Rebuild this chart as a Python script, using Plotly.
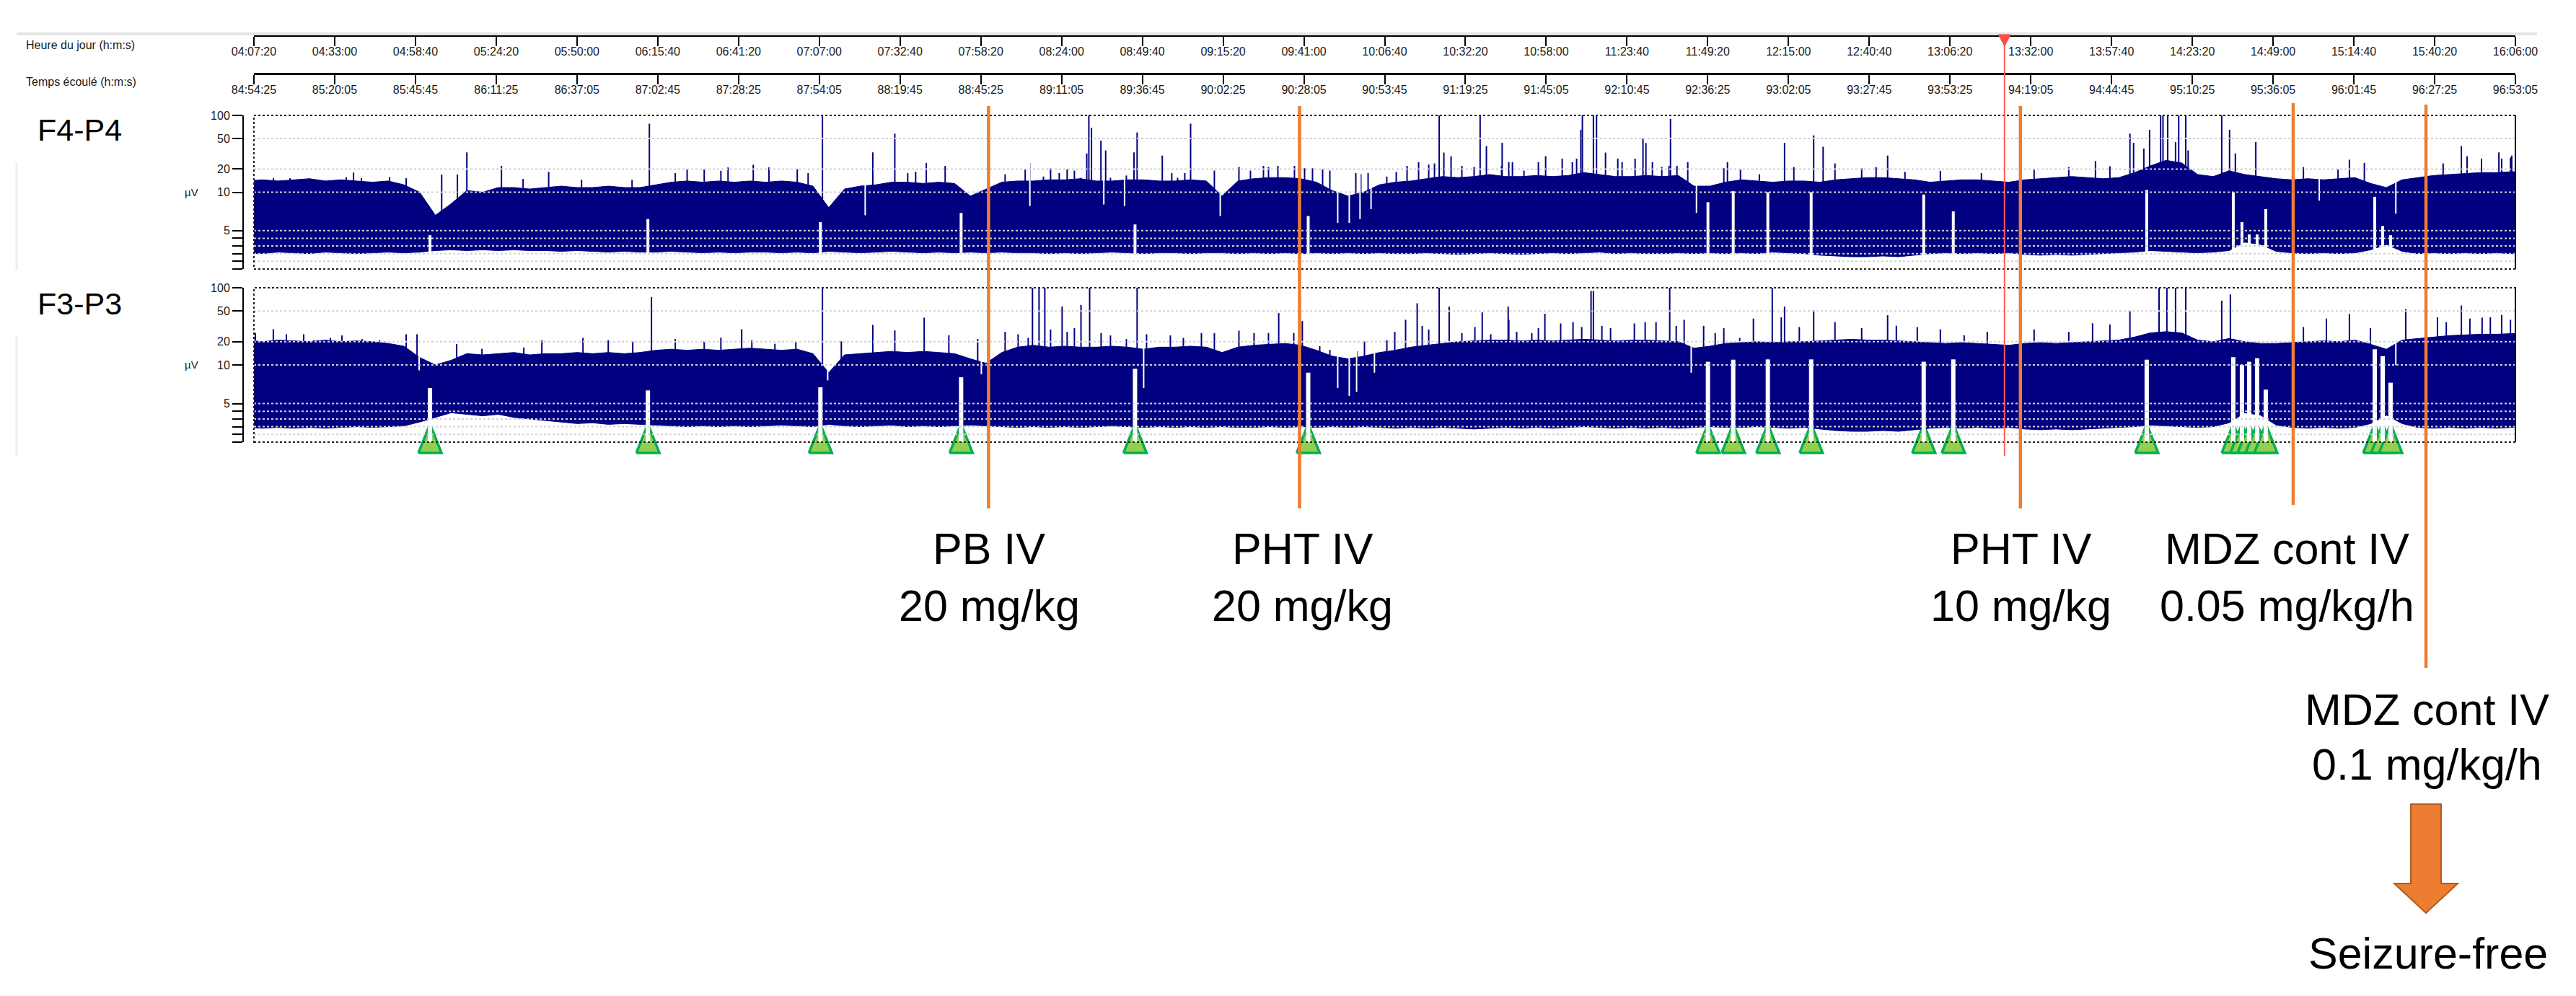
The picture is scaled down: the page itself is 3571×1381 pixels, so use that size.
import numpy as np
import plotly.graph_objects as go

W, H = 3571, 1381
NAVY = "#000080"
ORANGE = "#ED7D31"
FONT = "Liberation Sans, Arial, sans-serif"

# --- time axes -------------------------------------------------------------
clock_ticks = ["04:07:20", "04:33:00", "04:58:40", "05:24:20", "05:50:00", "06:15:40",
               "06:41:20", "07:07:00", "07:32:40", "07:58:20", "08:24:00", "08:49:40",
               "09:15:20", "09:41:00", "10:06:40", "10:32:20", "10:58:00", "11:23:40",
               "11:49:20", "12:15:00", "12:40:40", "13:06:20", "13:32:00", "13:57:40",
               "14:23:20", "14:49:00", "15:14:40", "15:40:20", "16:06:00"]
elapsed_ticks = ["84:54:25", "85:20:05", "85:45:45", "86:11:25", "86:37:05", "87:02:45",
                 "87:28:25", "87:54:05", "88:19:45", "88:45:25", "89:11:05", "89:36:45",
                 "90:02:25", "90:28:05", "90:53:45", "91:19:25", "91:45:05", "92:10:45",
                 "92:36:25", "93:02:05", "93:27:45", "93:53:25", "94:19:05", "94:44:45",
                 "95:10:25", "95:36:05", "96:01:45", "96:27:25", "96:53:05"]

# --- aEEG envelopes, one value every 5 min from 04:05 ------------------------
grid_start = "04:05:00"
f4p4_upper = [14, 14.5, 14, 14.5, 15, 14, 14.5, 14, 13.5, 14,
              12.5, 10, 7, 8.5, 10.5, 10, 11.5, 11.5, 11, 11.5,
              12, 11.5, 11.5, 12, 11.5, 11.5, 12.5, 13.5, 14, 13.5,
              14, 13.5, 14, 13.5, 14, 13.5, 12, 8, 11, 12,
              12.5, 13.5, 13.5, 13, 13.5, 13, 9.5, 11, 13.5, 14,
              14, 14.5, 14.5, 15, 14, 14, 14.5, 14.5, 14, 14,
              14.5, 14, 9.5, 14, 15, 15.5, 15.5, 15, 13.5, 10.5,
              9.5, 10, 12.5, 13.5, 14, 15, 16, 15.5, 16, 17,
              16, 16, 16.5, 16, 16.5, 18, 17, 16, 16, 16.5,
              16, 16.5, 12, 12, 13.5, 14.5, 14, 13.5, 14, 14,
              13.5, 14.5, 15, 15.5, 15.5, 15, 14.5, 13.5, 14, 14.5,
              14.5, 14, 13.5, 14.5, 15, 15.5, 16, 15.5, 15, 15.5,
              18, 22, 26, 24, 17, 16, 19, 17, 16, 15,
              14.5, 15, 14.5, 15, 15.5, 13, 11.5, 14.5, 15.5, 16.5,
              17, 17.5, 18, 18, 18.5, 18.5]
f4p4_lower = [2.1, 2.0, 2.2, 2.1, 2.0, 2.2, 2.1, 2.0, 2.1, 2.2,
              2.1, 2.2, 2.4, 2.5, 2.4, 2.5, 2.4, 2.5, 2.4, 2.4,
              2.3, 2.4, 2.3, 2.2, 2.3, 2.2, 2.2, 2.3, 2.2, 2.1,
              2.2, 2.1, 2.2, 2.2, 2.1, 2.2, 2.1, 2.3, 2.2, 2.1,
              2.2, 2.3, 2.2, 2.1, 2.2, 2.1, 2.2, 2.1, 2.2, 2.1,
              2.1, 2.0, 2.1, 2.0, 2.1, 2.2, 2.1, 2.0, 2.1, 2.1,
              2.0, 2.1, 2.1, 2.0, 2.1, 2.0, 2.1, 2.0, 2.1, 2.0,
              2.1, 2.0, 2.1, 2.0, 2.0, 2.1, 2.0, 1.9, 2.0, 2.1,
              2.0, 1.9, 2.0, 2.1, 2.0, 2.1, 2.2, 2.0, 2.1, 2.0,
              2.0, 2.1, 2.0, 2.1, 2.0, 2.1, 2.0, 2.2, 2.1, 2.0,
              1.8, 1.7, 1.6, 1.6, 1.7, 1.6, 1.8, 2.0, 2.1, 2.0,
              2.1, 2.0, 2.1, 1.9, 1.8, 1.9, 1.8, 1.9, 2.0, 2.1,
              2.2, 2.4, 2.3, 2.2, 2.1, 2.2, 2.4, 3.5, 3.2, 2.3,
              2.1, 2.0, 2.1, 2.0, 2.1, 2.5, 3.2, 2.3, 2.0, 2.1,
              2.0, 2.1, 2.0, 2.1, 2.0, 2.0]
f3p3_upper = [21, 20, 21, 20.5, 20, 21, 20, 20.5, 20, 19,
              17.5, 12.5, 10, 11.5, 14, 13.5, 14, 14.5, 13.5, 14,
              14, 14.5, 14, 14.5, 14, 14.5, 15.5, 16, 15.5, 16,
              15.5, 16, 16.5, 16, 15.5, 16, 14, 9, 13.5, 14,
              14.5, 15, 14.5, 15, 14.5, 14, 12, 10.5, 14.5, 17,
              18, 17, 17.5, 17, 17, 17.5, 17, 16, 17, 17,
              17.5, 17, 14.5, 17, 18, 18.5, 19, 18, 15.5, 13,
              12, 13, 14.5, 15.5, 17, 18, 19, 20, 20.5, 21,
              21, 20.5, 21, 20.5, 21, 21.5, 21, 20.5, 21, 21,
              20.5, 20, 16.5, 17.5, 19, 19.5, 20, 19.5, 20, 20,
              20.5, 21, 21.5, 21, 21, 20.5, 20, 19.5, 19, 19.5,
              19, 18.5, 18, 19, 19.5, 19, 19.5, 20, 20.5, 21,
              23, 26, 27, 26, 21, 20, 22, 20, 19, 19,
              19.5, 20, 20.5, 20, 21, 18.5, 16, 21, 22, 23,
              24, 24.5, 25, 25, 25.5, 25.5]
f3p3_lower = [1.9, 1.8, 1.9, 1.8, 1.9, 1.8, 1.9, 2.0, 1.9, 2.0,
              2.1, 2.6, 3.2, 3.8, 3.6, 3.4, 3.6, 3.2, 3.0, 2.8,
              2.6, 2.4, 2.5, 2.3, 2.4, 2.3, 2.2, 2.1, 2.0, 2.1,
              2.0, 2.1, 2.0, 2.1, 2.2, 2.1, 2.0, 2.3, 2.1, 2.0,
              2.1, 2.2, 2.0, 2.1, 2.0, 2.1, 2.2, 2.1, 2.0, 1.9,
              2.0, 1.9, 2.0, 1.9, 2.0, 2.1, 2.0, 1.9, 2.0, 1.9,
              2.0, 1.9, 2.0, 1.9, 1.9, 2.0, 1.9, 2.0, 1.9, 2.0,
              1.9, 2.0, 1.9, 1.8, 1.9, 1.8, 1.9, 1.8, 1.7, 1.8,
              1.9, 1.8, 1.9, 1.8, 1.9, 2.0, 1.9, 1.8, 1.9, 1.8,
              1.9, 1.8, 1.9, 2.0, 1.9, 1.9, 2.0, 1.9, 1.8, 1.9,
              1.7, 1.5, 1.4, 1.4, 1.5, 1.4, 1.6, 1.8, 1.9, 1.8,
              1.9, 1.8, 1.9, 1.7, 1.6, 1.7, 1.6, 1.7, 1.8, 1.9,
              2.0, 2.2, 2.1, 2.0, 1.9, 2.0, 2.5, 3.8, 3.5, 2.2,
              1.9, 1.8, 1.9, 1.8, 1.9, 2.4, 3.5, 2.4, 1.9, 1.8,
              1.9, 1.8, 1.9, 1.8, 1.9, 1.9]

# --- tall upper-margin spikes (uV) ------------------------------------------
f4p4_spike_t = ["04:19:30", "04:34:00", "05:07:00", "05:12:00", "05:15:00", "05:26:00",
                "05:41:00", "06:13:00", "06:25:00", "06:38:00", "06:51:00", "07:00:00",
                "07:08:00", "07:24:00", "07:31:00", "07:41:00", "07:47:00", "08:14:00",
                "08:32:00", "08:32:40", "08:33:30", "08:36:30", "08:38:00", "08:47:00",
                "08:48:00", "08:56:00", "09:05:00", "10:24:00", "10:37:00", "10:39:00",
                "10:44:00", "11:09:00", "11:09:30", "11:13:00", "11:14:00", "11:28:45",
                "11:37:30", "12:13:45", "12:23:00", "12:26:00", "12:46:30", "14:03:30",
                "14:04:40", "14:07:55", "14:09:45", "14:13:15", "14:14:00", "14:15:30",
                "14:18:00", "14:19:00", "14:21:15", "14:22:00", "14:32:40", "14:35:10",
                "14:37:00", "14:43:30", "15:13:15", "15:18:00", "15:48:50", "16:00:45",
                "16:04:50"]
f4p4_spike_uv = [14.5, 14, 17, 17, 33, 22, 18.4, 78, 20, 21, 21, 20,
                 100, 33, 58, 24, 22, 24, 32, 100, 69, 47, 35, 33,
                 60, 30, 78, 100, 100, 40, 44, 65, 100, 100, 100, 50,
                 90, 44, 55, 39, 30, 58, 44, 37, 65, 100, 100, 100,
                 45, 100, 100, 35, 100, 65, 32, 45, 26.5, 24, 40, 33,
                 30]
f3p3_spike_t = ["04:13:30", "06:13:40", "06:42:20", "07:08:00", "07:24:00", "07:31:00",
                "07:40:20", "08:14:45", "08:16:50", "08:18:40", "08:24:10", "08:30:10",
                "08:32:55", "08:48:00", "09:33:00", "09:40:30", "10:17:00", "10:24:00",
                "10:27:10", "10:37:40", "10:45:55", "10:57:35", "11:12:15", "11:13:00",
                "11:37:15", "12:09:50", "12:13:45", "12:23:00", "12:46:30", "14:03:30",
                "14:12:45", "14:15:15", "14:18:00", "14:21:15", "14:32:40", "14:35:25",
                "15:13:15", "15:31:10", "15:48:50", "15:55:25"]
f3p3_spike_uv = [29, 76, 29, 100, 33, 28, 41, 100, 100, 100, 57, 60,
                 100, 100, 47, 37, 63, 100, 57, 48, 57, 46, 91, 91,
                 100, 100, 57, 51, 44, 50, 100, 100, 100, 100, 68, 82,
                 46, 53, 59, 41]

# --- short bursts just above the band (uV) ----------------------------------
f4p4_hair_t = ["04:13:31", "04:18:48", "04:36:41", "04:38:59", "04:41:30", "04:50:27",
               "04:55:43", "05:32:52", "05:51:27", "06:07:30", "06:21:14", "06:30:26",
               "06:35:44", "06:46:01", "07:03:27", "07:35:06", "07:37:37", "08:06:03",
               "08:12:26", "08:18:14", "08:20:30", "08:23:15", "08:25:46", "08:28:04",
               "08:30:08", "08:39:32", "08:44:35", "08:59:01", "09:00:52", "09:03:09",
               "09:07:44", "09:12:33", "09:20:21", "09:24:01", "09:28:09", "09:29:45",
               "09:32:44", "09:38:00", "09:41:13", "09:43:44", "09:46:57", "09:49:15",
               "09:57:30", "09:59:06", "10:01:24", "10:07:20", "10:10:21", "10:13:47",
               "10:17:27", "10:20:40", "10:22:30", "10:25:29", "10:27:46", "10:31:12",
               "10:35:06", "10:43:49", "10:46:07", "10:47:16", "10:50:56", "10:55:31",
               "10:57:49", "11:03:05", "11:06:18", "11:07:40", "11:16:51", "11:20:45",
               "11:22:07", "11:26:15", "11:29:41", "11:31:45", "11:34:44", "11:37:02",
               "11:39:33", "11:42:59", "11:54:27", "11:55:36", "11:59:44", "12:05:44",
               "12:16:42", "12:29:46", "12:38:15", "12:42:50", "12:52:01", "13:03:15",
               "13:16:19", "13:33:03", "13:44:04", "13:52:33", "13:57:08", "14:58:38",
               "15:09:38", "15:43:02", "15:50:38", "15:55:14", "16:01:38", "16:04:26"]
f4p4_hair_uv = [15.2, 15.2, 15.7, 18, 15.2, 15.7, 15.2, 14.9, 14.5, 14.5, 17.7, 19.8,
                19, 22.8, 17.7, 17.7, 18.5, 17.1, 19.8, 16, 20.5, 17.8, 19.8, 19.1,
                15.4, 15.4, 16.5, 17.8, 15.4, 17.8, 14.3, 19.1, 21.3, 19.1, 22, 21.3,
                22, 22, 20.5, 20.5, 19.8, 19.1, 17.8, 17.2, 17.8, 16, 18.4, 22,
                24.6, 22.9, 23.7, 32.8, 29.4, 22, 21.3, 22, 24.6, 24.6, 19.1, 24.6,
                29.4, 27.4, 24.6, 27.4, 32.8, 27.4, 24.6, 27.4, 43.7, 24.6, 21.3, 22,
                22, 24.6, 20.5, 24.6, 19.8, 17.1, 21.2, 23.7, 20.5, 21.2, 18.4, 19,
                17.7, 19.8, 21.2, 25.4, 21.8, 21.2, 19.8, 23.7, 29.4, 27.4, 27.4, 28.3]
f3p3_hair_t = ["04:07:48", "04:17:39", "04:23:09", "04:26:22", "04:31:38", "04:35:19",
               "04:41:44", "04:47:14", "04:55:43", "04:59:10", "05:11:46", "05:19:48",
               "05:33:06", "05:38:50", "05:51:54", "05:59:56", "06:07:43", "06:21:14",
               "06:30:26", "06:35:44", "06:45:34", "06:52:54", "06:59:33", "07:14:00",
               "07:48:10", "07:57:20", "08:06:03", "08:10:11", "08:13:23", "08:20:30",
               "08:25:46", "08:28:04", "08:36:33", "08:39:32", "08:44:35", "08:51:00",
               "08:58:34", "09:02:42", "09:08:26", "09:12:33", "09:20:21", "09:25:10",
               "09:29:45", "09:37:47", "09:46:02", "09:49:15", "09:57:57", "10:00:15",
               "10:07:22", "10:09:53", "10:13:19", "10:18:36", "10:20:40", "10:31:12",
               "10:35:20", "10:40:23", "10:46:07", "10:48:37", "10:53:26", "10:55:31",
               "11:02:36", "11:06:31", "11:09:17", "11:15:42", "11:18:27", "11:26:01",
               "11:29:27", "11:32:54", "11:39:19", "11:41:50", "11:48:02", "11:51:42",
               "11:54:27", "11:59:30", "12:03:51", "12:12:42", "12:18:26", "12:29:46",
               "12:38:15", "12:49:16", "12:55:55", "13:03:15", "13:10:49", "13:18:09",
               "13:33:03", "13:44:04", "13:51:38", "13:57:08", "14:58:38", "15:05:56",
               "15:19:56", "15:41:14", "15:44:02", "15:51:32", "15:58:02", "16:01:38",
               "16:04:26"]
f3p3_hair_uv = [25.9, 25, 25, 20.9, 22.4, 24.1, 21.6, 20.9, 25, 25, 18.7, 16.2,
                16.8, 20.9, 22.4, 20.9, 20.1, 21.7, 20.2, 22.5, 20.9, 18.8, 20.2, 20.2,
                24.2, 21.7, 26.9, 25, 22.4, 28.8, 26.9, 29.9, 25.9, 24.1, 21.6, 25,
                24.1, 22.4, 25.9, 25.9, 27.8, 25.9, 25.9, 25.9, 17.5, 15.7, 15.1, 20.1,
                20.9, 26.9, 38.5, 32.1, 28.8, 25.9, 31, 25, 38.5, 26.9, 25.9, 29.9,
                34.5, 35.8, 31, 32.1, 29.9, 34.5, 35.8, 35.8, 32.1, 38.5, 32.1, 25.9,
                29.9, 22.4, 39.9, 41.4, 31, 35.9, 30, 32.2, 31, 28.9, 24.2, 26.9,
                28.9, 26.9, 34.6, 33.4, 31, 39.9, 30, 41.4, 35.9, 39.9, 41.4, 44.5,
                38.5]

# --- brief drops of the upper margin (uV) ------------------------------------
f4p4_dip_t = ["07:21:35", "08:13:55", "08:37:25", "08:44:00", "09:14:25", "09:51:45",
              "09:55:25", "09:58:50", "10:02:20", "11:45:45", "15:03:40", "15:28:00"]
f4p4_dip_uv = [7, 8.2, 8.4, 8.2, 6.9, 6, 6, 6.5, 7.8, 7.3, 8.9, 7.2]
f3p3_dip_t = ["04:59:50", "07:09:40", "07:58:30", "08:50:05", "09:51:45", "09:55:25",
              "09:57:45", "10:03:25", "11:44:05", "15:28:00"]
f3p3_dip_uv = [9.3, 8, 8.8, 7, 7, 6, 6.5, 9, 9, 10]

# --- seizures (green triangles) and lower-margin rise at each one (uV) -----
seizure_t = ["05:03:17", "06:12:32", "07:07:21", "07:52:04", "08:47:20", "09:42:22",
             "11:49:24", "11:57:26", "12:08:26", "12:22:12", "12:57:58", "13:07:22",
             "14:08:50", "14:36:21", "14:39:06", "14:41:24", "14:43:55", "14:46:40",
             "15:21:18", "15:23:49", "15:26:20"]
f4p4_seizure_uv = [4.4, 6.5, 6.1, 7.3, 5.8, 6.9, 8.7, 10.3, 10, 10, 9.7, 7.5,
                   10.7, 10, 6.1, 4.5, 4.5, 7.8, 9.4, 5.6, 4.4]
f3p3_seizure_uv = [7.0, 6.7, 7.1, 8.4, 9.5, 9.0, 11, 11.7, 11.8, 11.8, 11, 11.8,
                   11.7, 12.6, 10, 11, 12.2, 6.8, 16, 13, 7.7]

# --- treatments ---------------------------------------------------------------
drug_t = ["08:00:47", "09:39:37", "13:28:42", "14:55:23", "15:37:35"]
drug_name = ["PB IV", "PHT IV", "PHT IV", "MDZ cont IV", "MDZ cont IV"]
drug_dose = ["20 mg/kg", "20 mg/kg", "10 mg/kg", "0.05 mg/kg/h", "0.1 mg/kg/h"]
cursor_t = "13:23:39"


def secs(s):
    p = [int(v) for v in s.split(":")]
    return p[0] * 3600 + p[1] * 60 + (p[2] if len(p) > 2 else 0)


def amp(v):
    # aEEG scale: linear 0-10 uV, logarithmic 10-100 uV
    v = np.asarray(v, dtype=float)
    return np.where(v <= 10, v / 10.0, 1 + np.log10(np.maximum(v, 10) / 10.0))


def px_x(p):
    return p / W


def px_y(p):
    return 1 - p / H


T0, T1 = secs(clock_ticks[0]), secs(clock_ticks[-1])
PLOT_L, PLOT_R = 352, 3487
SPP = (T1 - T0) / (PLOT_R - PLOT_L)  # seconds per pixel
grid_t = secs(grid_start) + 300 * np.arange(len(f4p4_upper))


def segs(times, lo, hi):
    xs, ys = [], []
    for t, a, b in zip(times, lo, hi):
        xs += [t, t, None]
        ys += [a, b, None]
    return xs, ys


fig = go.Figure()


def add_channel(xa, ya, upper, lower, sp_t, sp_v, hair_t, hair_v, dip_t, dip_v, sz_v, notch_w):
    common = dict(xaxis=xa, yaxis=ya, hoverinfo="skip", showlegend=False)
    fig.add_trace(go.Scatter(x=grid_t, y=amp(lower), mode="lines",
                             line=dict(color=NAVY, width=1), **common))
    fig.add_trace(go.Scatter(x=grid_t, y=amp(upper), mode="lines", fill="tonexty",
                             fillcolor=NAVY, line=dict(color=NAVY, width=1), **common))
    ht = [secs(t) for t in hair_t]
    xs, ys = segs(ht, amp([8] * len(ht)), amp(hair_v))
    fig.add_trace(go.Scatter(x=xs, y=ys, mode="lines", line=dict(color=NAVY, width=2), **common))
    st = [secs(t) for t in sp_t]
    xs, ys = segs(st, amp([6] * len(st)), amp(sp_v))
    fig.add_trace(go.Scatter(x=xs, y=ys, mode="lines", line=dict(color=NAVY, width=2), **common))
    dt = [secs(t) for t in dip_t]
    xs, ys = segs(dt, amp(dip_v), [2.0] * len(dt))
    fig.add_trace(go.Scatter(x=xs, y=ys, mode="lines", line=dict(color="white", width=2), **common))
    zt = [secs(t) for t in seizure_t]
    xs, ys = segs(zt, [0] * len(zt), amp(sz_v))
    fig.add_trace(go.Scatter(x=xs, y=ys, mode="lines", line=dict(color="white", width=notch_w), **common))


add_channel("x", "y", f4p4_upper, f4p4_lower, f4p4_spike_t, f4p4_spike_uv,
            f4p4_hair_t, f4p4_hair_uv, f4p4_dip_t, f4p4_dip_uv, f4p4_seizure_uv, 4)
add_channel("x2", "y2", f3p3_upper, f3p3_lower, f3p3_spike_t, f3p3_spike_uv,
            f3p3_hair_t, f3p3_hair_uv, f3p3_dip_t, f3p3_dip_uv, f3p3_seizure_uv, 6)

# seizure markers
hw = 16 * SPP
for t in seizure_t:
    c = secs(t)
    fig.add_trace(go.Scatter(x=[c - hw, c + hw, c, c - hw], y=[4, 4, 44, 4], mode="lines",
                             fill="toself", fillcolor="#92D050",
                             line=dict(color="#00B050", width=3.5),
                             xaxis="x", yaxis="y3", hoverinfo="skip", showlegend=False))

# dummy traces to carry the two time axes on top
for xa in ["x3", "x4"]:
    fig.add_trace(go.Scatter(x=[T0, T1], y=[None, None], mode="markers", xaxis=xa, yaxis="y",
                             hoverinfo="skip", showlegend=False))

xdom = [px_x(PLOT_L), px_x(PLOT_R)]
hidden_x = dict(domain=xdom, range=[T0, T1], showgrid=False, zeroline=False, automargin=False,
                showticklabels=False, showline=False, ticks="")
tick_s = [secs(t) for t in clock_ticks]


def top_axis(pos_px, labels):
    return dict(overlaying="x", anchor="free", position=px_y(pos_px), side="bottom",
                range=[T0, T1], tickmode="array", tickvals=tick_s, ticktext=labels,
                ticks="outside", ticklen=13, tickwidth=2, tickcolor="black",
                ticklabelstandoff=-6, automargin=False,
                showline=True, linewidth=3, linecolor="black", showgrid=False,
                zeroline=False, tickfont=dict(family=FONT, size=16, color="#1a1a1a"))


def amp_axis(top_px, bot_px):
    return dict(domain=[px_y(bot_px), px_y(top_px)], range=[0, 2], anchor="free",
                position=px_x(337), showgrid=False, zeroline=False, automargin=False,
                tickmode="array", tickvals=amp([5, 10, 20, 50, 100]),
                ticktext=["5", "10", "20", "50", "100"],
                ticks="outside", ticklen=14, tickwidth=2, tickcolor="black",
                showline=True, linewidth=2, linecolor="black",
                tickfont=dict(family=FONT, size=16, color="#1a1a1a"),
                minor=dict(tickmode="array", tickvals=amp([0, 1, 2, 3, 4]), ticks="outside",
                           ticklen=14, tickwidth=2, tickcolor="black", showgrid=False))


fig.update_layout(
    template="none",
    width=W, height=H, autosize=False,
    margin=dict(l=0, r=0, t=0, b=0, pad=0, autoexpand=False),
    paper_bgcolor="white", plot_bgcolor="rgba(0,0,0,0)",
    showlegend=False,
    xaxis=dict(anchor="y", **hidden_x),
    xaxis2=dict(anchor="y2", matches="x", **hidden_x),
    xaxis3=top_axis(49, clock_ticks),
    xaxis4=top_axis(102, elapsed_ticks),
    yaxis=amp_axis(160, 373),
    yaxis2=amp_axis(399, 613),
    yaxis3=dict(domain=[px_y(632), px_y(584)], range=[0, 48], anchor="x", visible=False,
                automargin=False),
    font=dict(family=FONT, color="black"),
)

shapes = []
# light panel borders of the viewer
shapes.append(dict(type="line", xref="paper", yref="paper", x0=px_x(23), x1=px_x(3517),
                   y0=px_y(47), y1=px_y(47), line=dict(color="#E4E4E4", width=4)))
for a, b in [(225, 375), (467, 633)]:
    shapes.append(dict(type="line", xref="paper", yref="paper", x0=px_x(23), x1=px_x(23),
                       y0=px_y(a), y1=px_y(b), line=dict(color="#EEEEEE", width=3)))
# dotted grid drawn over the traces, and the frames
for ya in ["y", "y2"]:
    for v in [1, 2, 3, 4, 5, 10, 20, 50]:
        yy = float(amp(v))
        shapes.append(dict(type="line", xref="x domain", yref=ya, x0=0, x1=1, y0=yy, y1=yy,
                           layer="above", line=dict(color="#D2D2D2", width=2, dash="dot")))
    shapes.append(dict(type="rect", xref="x domain", yref=ya + " domain", x0=0, x1=1, y0=0, y1=1,
                       layer="above", line=dict(color="#222222", width=2, dash="dot")))
    shapes.append(dict(type="line", xref="x domain", yref=ya + " domain", x0=1, x1=1, y0=0, y1=1,
                       layer="above", line=dict(color="#111111", width=2)))

# time cursor
ct = secs(cursor_t)
shapes.append(dict(type="line", xref="x", yref="paper", x0=ct, x1=ct, y0=px_y(632), y1=px_y(49),
                   layer="above", line=dict(color="#FF5A5A", width=2)))
shapes.append(dict(type="path", xref="x", yref="paper", layer="above",
                   path=f"M {ct - 8.5 * SPP},{px_y(48)} L {ct + 8.5 * SPP},{px_y(48)} L {ct},{px_y(64)} Z",
                   fillcolor="#FF4B4B", line=dict(color="#FF4B4B", width=1)))

# treatment lines
line_top = [147, 147, 147, 143, 145]
line_bot = [705, 705, 705, 700, 926]
for t, a, b in zip(drug_t, line_top, line_bot):
    s = secs(t)
    shapes.append(dict(type="line", xref="x", yref="paper", x0=s, x1=s, y0=px_y(b), y1=px_y(a),
                       layer="above", line=dict(color=ORANGE, width=4.5)))

# arrow towards "Seizure-free"
ac = secs(drug_t[-1])
ap = [(-21, 1115), (21, 1115), (21, 1225), (44, 1225), (0, 1266), (-44, 1225), (-21, 1225)]
path = "M " + " L ".join(f"{ac + dx * SPP},{px_y(py)}" for dx, py in ap) + " Z"
shapes.append(dict(type="path", xref="x", yref="paper", path=path, layer="above",
                   fillcolor=ORANGE, line=dict(color="#AE5A21", width=2)))
fig.update_layout(shapes=shapes)

ann = []
ann.append(dict(text="Heure du jour (h:m:s)", x=px_x(34), y=px_y(62), xanchor="left"))
ann.append(dict(text="Temps écoulé (h:m:s)", x=px_x(34), y=px_y(113), xanchor="left"))
for a in ann:
    a.update(xref="paper", yref="paper", yanchor="middle", showarrow=False,
             font=dict(family=FONT, size=16, color="#1a1a1a"))
for txt, y in [("F4-P4", 180), ("F3-P3", 421)]:
    ann.append(dict(text=txt, x=px_x(50), y=px_y(y), xref="paper", yref="paper",
                    xanchor="left", yanchor="middle", showarrow=False,
                    font=dict(family=FONT, size=43, color="black")))
for y in [266, 506]:
    ann.append(dict(text="µV", x=px_x(265), y=px_y(y), xref="paper", yref="paper",
                    xanchor="center", yanchor="middle", showarrow=False,
                    font=dict(family=FONT, size=15, color="#1a1a1a")))

text_y = [(761, 840), (761, 840), (761, 840), (761, 840), (984, 1060)]
text_dx = [1, 4, 1, -8, 1]
for t, name, dose, (y1, y2), dx in zip(drug_t, drug_name, drug_dose, text_y, text_dx):
    for txt, y in [(name, y1), (dose, y2)]:
        ann.append(dict(text=txt, x=secs(t), y=px_y(y), xref="x", yref="paper", xshift=dx,
                        xanchor="center", yanchor="middle", showarrow=False,
                        font=dict(family=FONT, size=61, color="black")))
ann.append(dict(text="Seizure-free", x=secs(drug_t[-1]), y=px_y(1322), xref="x", yref="paper",
                xshift=3, xanchor="center", yanchor="middle", showarrow=False,
                font=dict(family=FONT, size=61, color="black")))
fig.update_layout(annotations=ann)

fig.write_html("out.html", config={"displayModeBar": False},
               post_script="document.body.style.margin='0px';")
